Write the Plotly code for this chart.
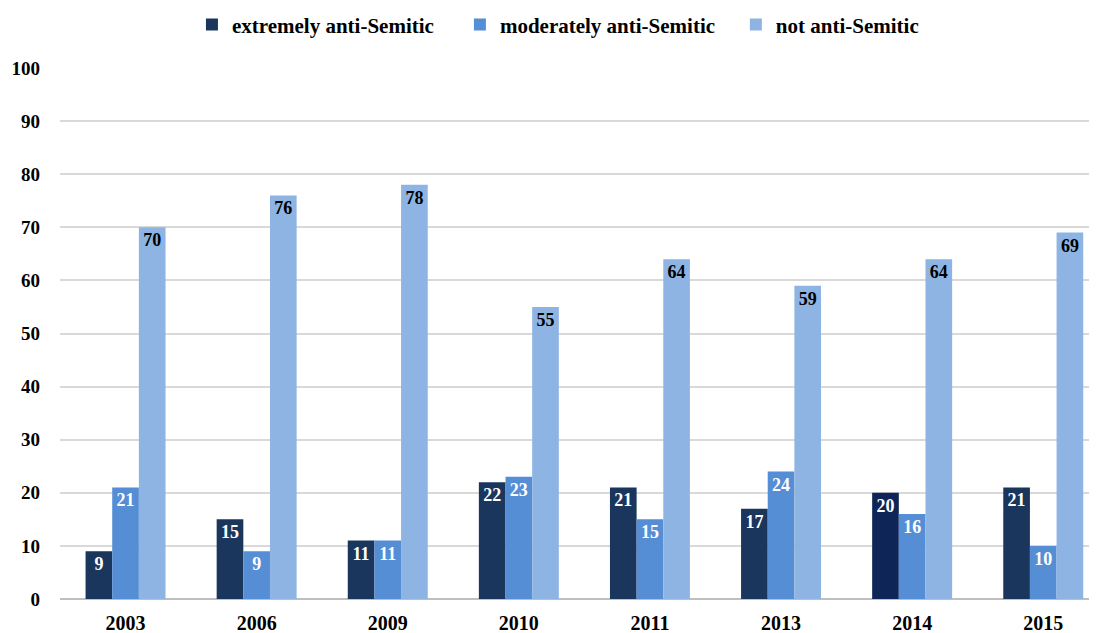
import plotly.graph_objs as go

# Survey results by year
years = ['2003', '2006', '2009', '2010', '2011', '2013', '2014', '2015']
extremely = [9, 15, 11, 22, 21, 17, 20, 21]
moderately = [21, 9, 11, 23, 15, 24, 16, 10]
not_anti = [70, 76, 78, 55, 64, 59, 64, 69]
series_names = ['extremely anti-Semitic', 'moderately anti-Semitic', 'not anti-Semitic']

dark_colors = ['#1B365D'] * 8
dark_colors[6] = '#0E2657'

font_family = 'Liberation Serif'
label_size = 18


def make_bar(values, name, color, text_color, pad):
    return go.Bar(
        x=years, y=values, name='<b>' + name + '</b>' + '&nbsp;' * pad,
        marker=dict(color=color, line=dict(width=0)),
        text=values, textposition='inside', insidetextanchor='end',
        textfont=dict(color=text_color, size=label_size, family=font_family),
        texttemplate='<b>%{text}</b>', constraintext='none',
    )


data = [
    make_bar(extremely, series_names[0], dark_colors, 'white', 4),
    make_bar(moderately, series_names[1], '#558ED5', 'white', 3),
    make_bar(not_anti, series_names[2], '#8EB4E3', 'black', 0),
]

# page body adds an 8px offset, so the figure is sized to fill the window
layout = go.Layout(
    width=1089, height=625,
    margin=dict(l=52, r=0, t=60, b=34),
    paper_bgcolor='white', plot_bgcolor='white',
    font=dict(family=font_family, size=19, color='black'),
    barmode='group', bargap=0.39, bargroupgap=0,
    legend=dict(
        orientation='h', xref='container', x=0.505, xanchor='center',
        yref='container', y=0.973, yanchor='middle',
        font=dict(size=21, family=font_family, color='black'),
        itemwidth=30, traceorder='normal',
    ),
    xaxis=dict(
        type='category', range=[-0.5, 7.41], automargin=False,
        showgrid=False, showline=False, ticks='',
        tickfont=dict(size=20, family=font_family, color='black'),
        ticklabelstandoff=10,
        tickprefix='<b>', ticksuffix='</b>',
    ),
    yaxis=dict(
        range=[0, 100], dtick=10, automargin=False,
        showgrid=True, gridcolor='#D9D9D9', gridwidth=1.5,
        zeroline=True, zerolinecolor='#BFBFBF', zerolinewidth=1.5,
        showline=False, ticks='',
        tickfont=dict(size=19, family=font_family, color='black'),
        tickprefix='<b>', ticksuffix='</b>',
        ticklabelstandoff=19,
    ),
)

fig = go.Figure(data=data, layout=layout)
fig.write_html('out.html')
